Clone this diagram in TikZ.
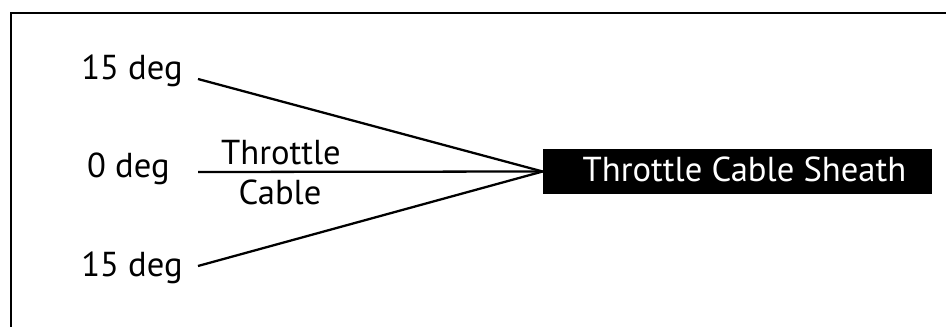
\documentclass[tikz,border=0pt]{standalone}
\usepackage{fontspec}
\setmainfont{PT Sans}
\usetikzlibrary{positioning}

\begin{document}
\begin{tikzpicture}[
  x=0.02cm, y=-0.02cm,
  every node/.style={font=\fontsize{19.7}{22}\selectfont, inner sep=0pt},
  angle/.style={anchor=base east},
  cablelabel/.style={anchor=base},
  sheathbox/.style={fill=black, text=white, minimum width=389*0.02cm, minimum height=45*0.02cm},
  cable/.style={line width=1.3pt},
]

\useasboundingbox (0,0) rectangle (946,327);

% frame (top and left edges only)
\draw[line width=1.5pt] (946,13) -- (11,13) -- (11,327);

\node[sheathbox] (sheath) at (737.5,171.5) {};
\node[text=white, anchor=base] (sheathtext) at (744.5,182) {Throttle Cable Sheath};

\node[angle] (up) at (183,80) {15 deg};
\node[angle] (mid) at (170,178) {0 deg};
\node[angle] (down) at (183,277) {15 deg};

\node[cablelabel] (throttle) at (281,165) {Throttle};
\node[cablelabel] (cablename) at (280,205) {Cable};

\coordinate (upstart) at (198,79);
\coordinate (midstart) at (198,172);
\coordinate (downstart) at (198,266);

\draw[cable] (upstart) -- (sheath.west);
\draw[cable] (midstart) -- (sheath.west);
\draw[cable] (downstart) -- (sheath.west);

\end{tikzpicture}
\end{document}
